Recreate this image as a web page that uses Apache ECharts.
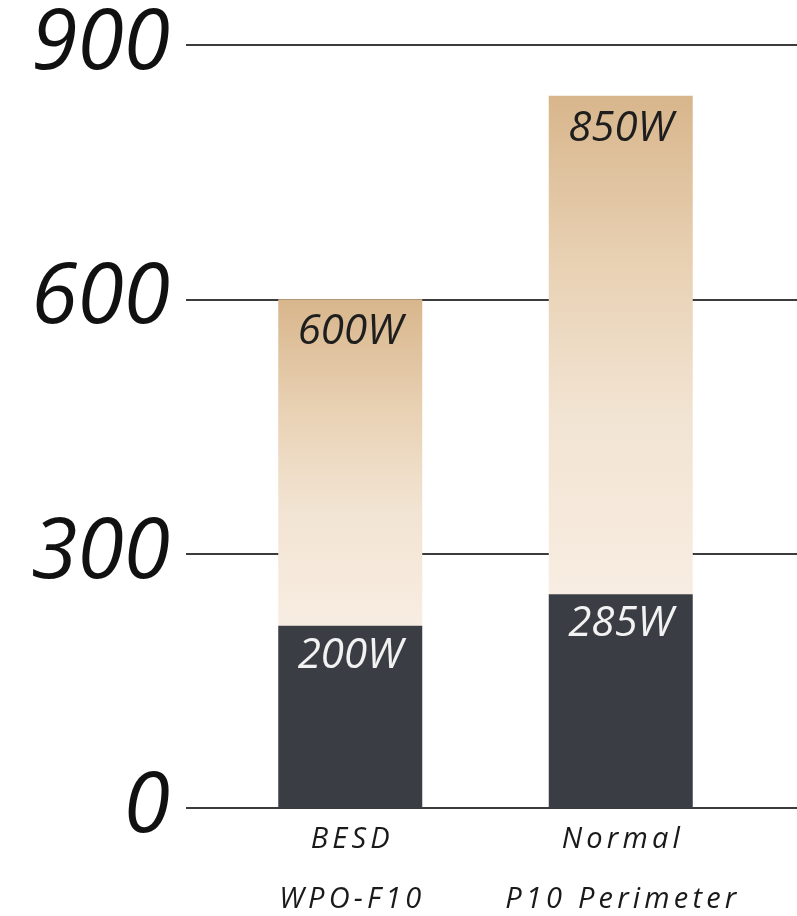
<!DOCTYPE html>
<html>
<head>
<meta charset="utf-8">
<script src="https://cdn.jsdelivr.net/npm/echarts@6/dist/echarts.min.js"></script>
<style>
html,body{margin:0;padding:0;background:#fff;}
#c{width:797px;height:916px;}
</style>
</head>
<body>
<div id="c"></div>
<script>
var categories = ["BESD\nWPO-F10", "Normal\nP10 Perimeter"];
var baseValues = [215, 252];
var upperValues = [385, 588];
var upperLabels = ["600W", "850W"];
var baseLabels = ["200W", "285W"];
var yTicks = [0, 300, 600, 900];

var FONT = '"Open Sans", "DejaVu Sans", sans-serif';
var chart = echarts.init(document.getElementById('c'), null, {renderer: 'canvas'});

function spaced(text) {
  return text.split('\n').map(function (line) {
    return line.split('').map(function (ch) { return '{s|' + ch + '}'; }).join('');
  }).join('\n');
}

var option = {
  animation: false,
  backgroundColor: '#ffffff',
  grid: [
    {left: 186, right: 0, top: 45, bottom: 108, outerBoundsMode: 'none', containLabel: false},
    {left: 215, right: 41, top: 45, bottom: 108, outerBoundsMode: 'none', containLabel: false}
  ],
  xAxis: [
    {gridIndex: 0, type: 'value', min: 0, max: 1, show: false},
    {
      gridIndex: 1, type: 'category', data: categories,
      axisLine: {show: false}, axisTick: {show: false},
      axisLabel: {
        margin: 2, interval: 0, lineHeight: 60,
        formatter: function (v) { return spaced(v); },
        rich: {
          s: {
            fontSize: 29, lineHeight: 60, fontStyle: 'italic', fontFamily: FONT,
            color: '#1a1a1a', padding: [0, 2.1]
          }
        }
      }
    }
  ],
  yAxis: [
    {
      gridIndex: 0, type: 'value', min: yTicks[0], max: yTicks[yTicks.length - 1], interval: 300,
      axisLine: {show: false}, axisTick: {show: false},
      splitLine: {show: true, lineStyle: {color: '#3c3c3c', width: 2}},
      axisLabel: {
        margin: 16, fontSize: 84, fontStyle: 'italic', fontFamily: FONT, color: '#111111'
      }
    },
    {gridIndex: 1, type: 'value', min: 0, max: 900, show: false, splitLine: {show: false}}
  ],
  series: [
    {
      type: 'bar', xAxisIndex: 1, yAxisIndex: 1, data: baseValues, stack: 'p',
      barWidth: 144, z: 4,
      itemStyle: {color: '#3b3d45'},
      label: {
        show: true, position: 'insideTop', distance: 9,
        formatter: function (p) { return baseLabels[p.dataIndex]; },
        fontSize: 42, fontStyle: 'italic', fontFamily: FONT, color: '#f2f2f2'
      }
    },
    {
      type: 'bar', xAxisIndex: 1, yAxisIndex: 1, data: upperValues, stack: 'p',
      barWidth: 144, z: 3,
      itemStyle: {
        color: new echarts.graphic.LinearGradient(0, 0, 0, 1, [
          {offset: 0, color: '#d8b68c'},
          {offset: 0.35, color: '#e9d2b5'},
          {offset: 0.65, color: '#f2e4d3'},
          {offset: 1, color: '#f8ede2'}
        ])
      },
      label: {
        show: true, position: 'insideTop', distance: 12,
        formatter: function (p) { return upperLabels[p.dataIndex]; },
        fontSize: 42, fontStyle: 'italic', fontFamily: FONT, color: '#1e1e1e'
      }
    }
  ]
};
chart.setOption(option);
</script>
</body>
</html>
